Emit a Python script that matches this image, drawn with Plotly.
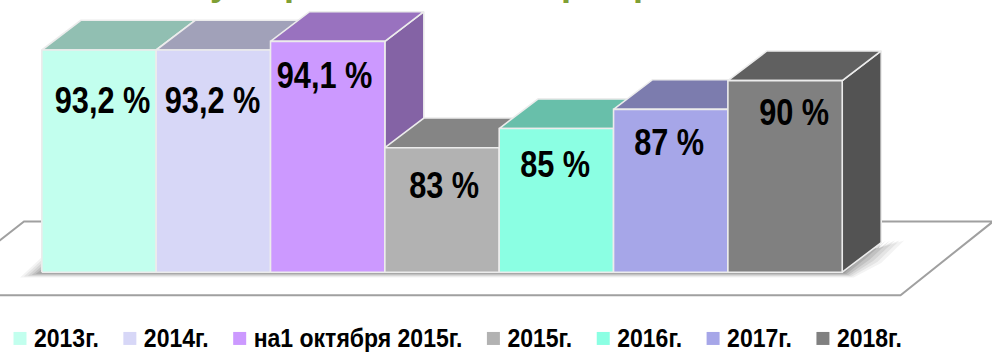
import plotly.graph_objects as go

categories = ["2013г.", "2014г.", "на1 октября 2015г.", "2015г.", "2016г.", "2017г.", "2018г."]
values = [93.2, 93.2, 94.1, 83, 85, 87, 90]
labels = ["93,2 %", "93,2 %", "94,1 %", "83 %", "85 %", "87 %", "90 %"]
colors = ["#C2FFEE", "#D7D7F7", "#CC99FF", "#B2B2B2", "#8BFFE3", "#A6A6E8", "#808080"]

BASE = 70.0
DX, DY = 0.341, 3.1          # oblique depth, in axis units
XR = [-0.866, 7.81]
YR = [61.67, 98.42]
FONT = "Liberation Sans, Arial"
EDGE = "#ECECEC"


def shade(hex_color, k):
    r, g, b = (int(hex_color[i:i + 2], 16) for i in (1, 3, 5))
    return f"rgb({int(r * k)},{int(g * k)},{int(b * k)})"


def poly(xs, ys, fill, line=EDGE, width=1.6):
    return go.Scatter(x=xs + xs[:1], y=ys + ys[:1], mode="lines", fill="toself",
                      fillcolor=fill, line=dict(color=line, width=width),
                      showlegend=False, hoverinfo="skip")


fig = go.Figure()

# floor outline
fig.add_trace(go.Scatter(x=[-1.48, 7.01, 7.82, -0.656, -1.48], y=[67.6, 67.6, 75.3, 75.3, 67.6],
                         mode="lines", line=dict(color="#A0A0A0", width=2),
                         showlegend=False, hoverinfo="skip"))

# soft shadow on the floor
left, right = -0.5, len(values) - 0.5
for g, alpha in [(1.0, 0.07), (0.8, 0.09), (0.6, 0.11), (0.4, 0.14), (0.2, 0.17), (0.0, 0.2)]:
    fig.add_trace(go.Scatter(
        x=[left - 0.02 - 0.17 * g, right + 0.02 + 0.08 * g, right + 0.5 * DX + 0.17 * g,
           right + DX + 0.2 * g, right + DX - 0.02, left + 0.02],
        y=[BASE - 0.1 - 0.45 * g, BASE - 0.1 - 0.45 * g, BASE + 0.5 * DY - 0.6 * g,
           BASE + DY + 0.2, BASE + DY - 0.6, BASE + 0.2 + 1.6 * g],
        mode="lines", fill="toself", fillcolor=f"rgba(80,80,80,{alpha})",
        line=dict(width=0), showlegend=False, hoverinfo="skip"))

# bars, painted left to right
for i, (v, c) in enumerate(zip(values, colors)):
    l, r = i - 0.5, i + 0.5
    fig.add_trace(poly([r, r + DX, r + DX, r], [BASE, BASE + DY, v + DY, v], shade(c, 0.65)))
    fig.add_trace(poly([l, r, r + DX, l + DX], [v, v, v + DY, v + DY], shade(c, 0.75)))
    fig.add_trace(poly([l, r, r, l], [BASE, BASE, v, v], c))

# legend proxies
for name, c in zip(categories, colors):
    fig.add_trace(go.Scatter(x=[None], y=[None], mode="markers", name=name,
                             marker=dict(symbol="square", size=13, color=c)))

label_dx = [3, -1, -3, 2, -1, -2, 9]
label_dy = [50, 50, 34, 38, 36, 33, 32]
annotations = [dict(x=i, y=v, text=f"<b>{t}</b>", showarrow=False, xshift=dx, yshift=-dy,
                    yanchor="middle", xanchor="center", name="value",
                    font=dict(family=FONT, size=37, color="black"))
               for i, (v, t, dx, dy) in enumerate(zip(values, labels, label_dx, label_dy))]

# the page's heading is cut off by the top edge: only descenders remain
for ch, px in [("у", 220), ("р", 295), ("р", 572), ("р", 644)]:
    annotations.append(dict(xref="paper", yref="paper", x=px / 992, y=1.0, yanchor="bottom",
                            yshift=-5, xanchor="center", showarrow=False,
                            text=f"<b>{ch}</b>",
                            font=dict(family=FONT, size=36, color="#7F9F35")))

fig.update_layout(
    width=992, height=352, margin=dict(l=0, r=0, t=0, b=0),
    paper_bgcolor="white", plot_bgcolor="white",
    xaxis=dict(range=XR, visible=False, fixedrange=True),
    yaxis=dict(range=YR, visible=False, fixedrange=True),
    annotations=annotations,
    showlegend=True,
    legend=dict(orientation="h", x=0.0, y=0.0, xanchor="left", yanchor="bottom",
                font=dict(family=FONT, size=23, color="black", weight="bold"),
                bgcolor="rgba(0,0,0,0)", itemsizing="trace"),
)

# Arial Narrow is not installed: condense the value labels and legend text in the page
POST = """
document.body.style.margin = '0';
document.querySelectorAll('.annotation-text').forEach(function (t) {
  if (parseFloat(t.style.fontSize) > 36.5) {
    t.setAttribute('textLength', t.getComputedTextLength() * 0.83);
    t.setAttribute('lengthAdjust', 'spacingAndGlyphs');
  }
});
document.querySelectorAll('.legendtext').forEach(function (t) {
  var w = t.getComputedTextLength();
  t.style.fontSize = '25px';
  t.setAttribute('x', parseFloat(t.getAttribute('x')) - 6);
  t.setAttribute('textLength', w);
  t.setAttribute('lengthAdjust', 'spacingAndGlyphs');
});
document.querySelectorAll('.legend').forEach(function (g) {
  g.setAttribute('transform', g.getAttribute('transform') + ' translate(0,8)');
});
"""
fig.write_html("out.html", post_script=POST, config=dict(displayModeBar=False))
